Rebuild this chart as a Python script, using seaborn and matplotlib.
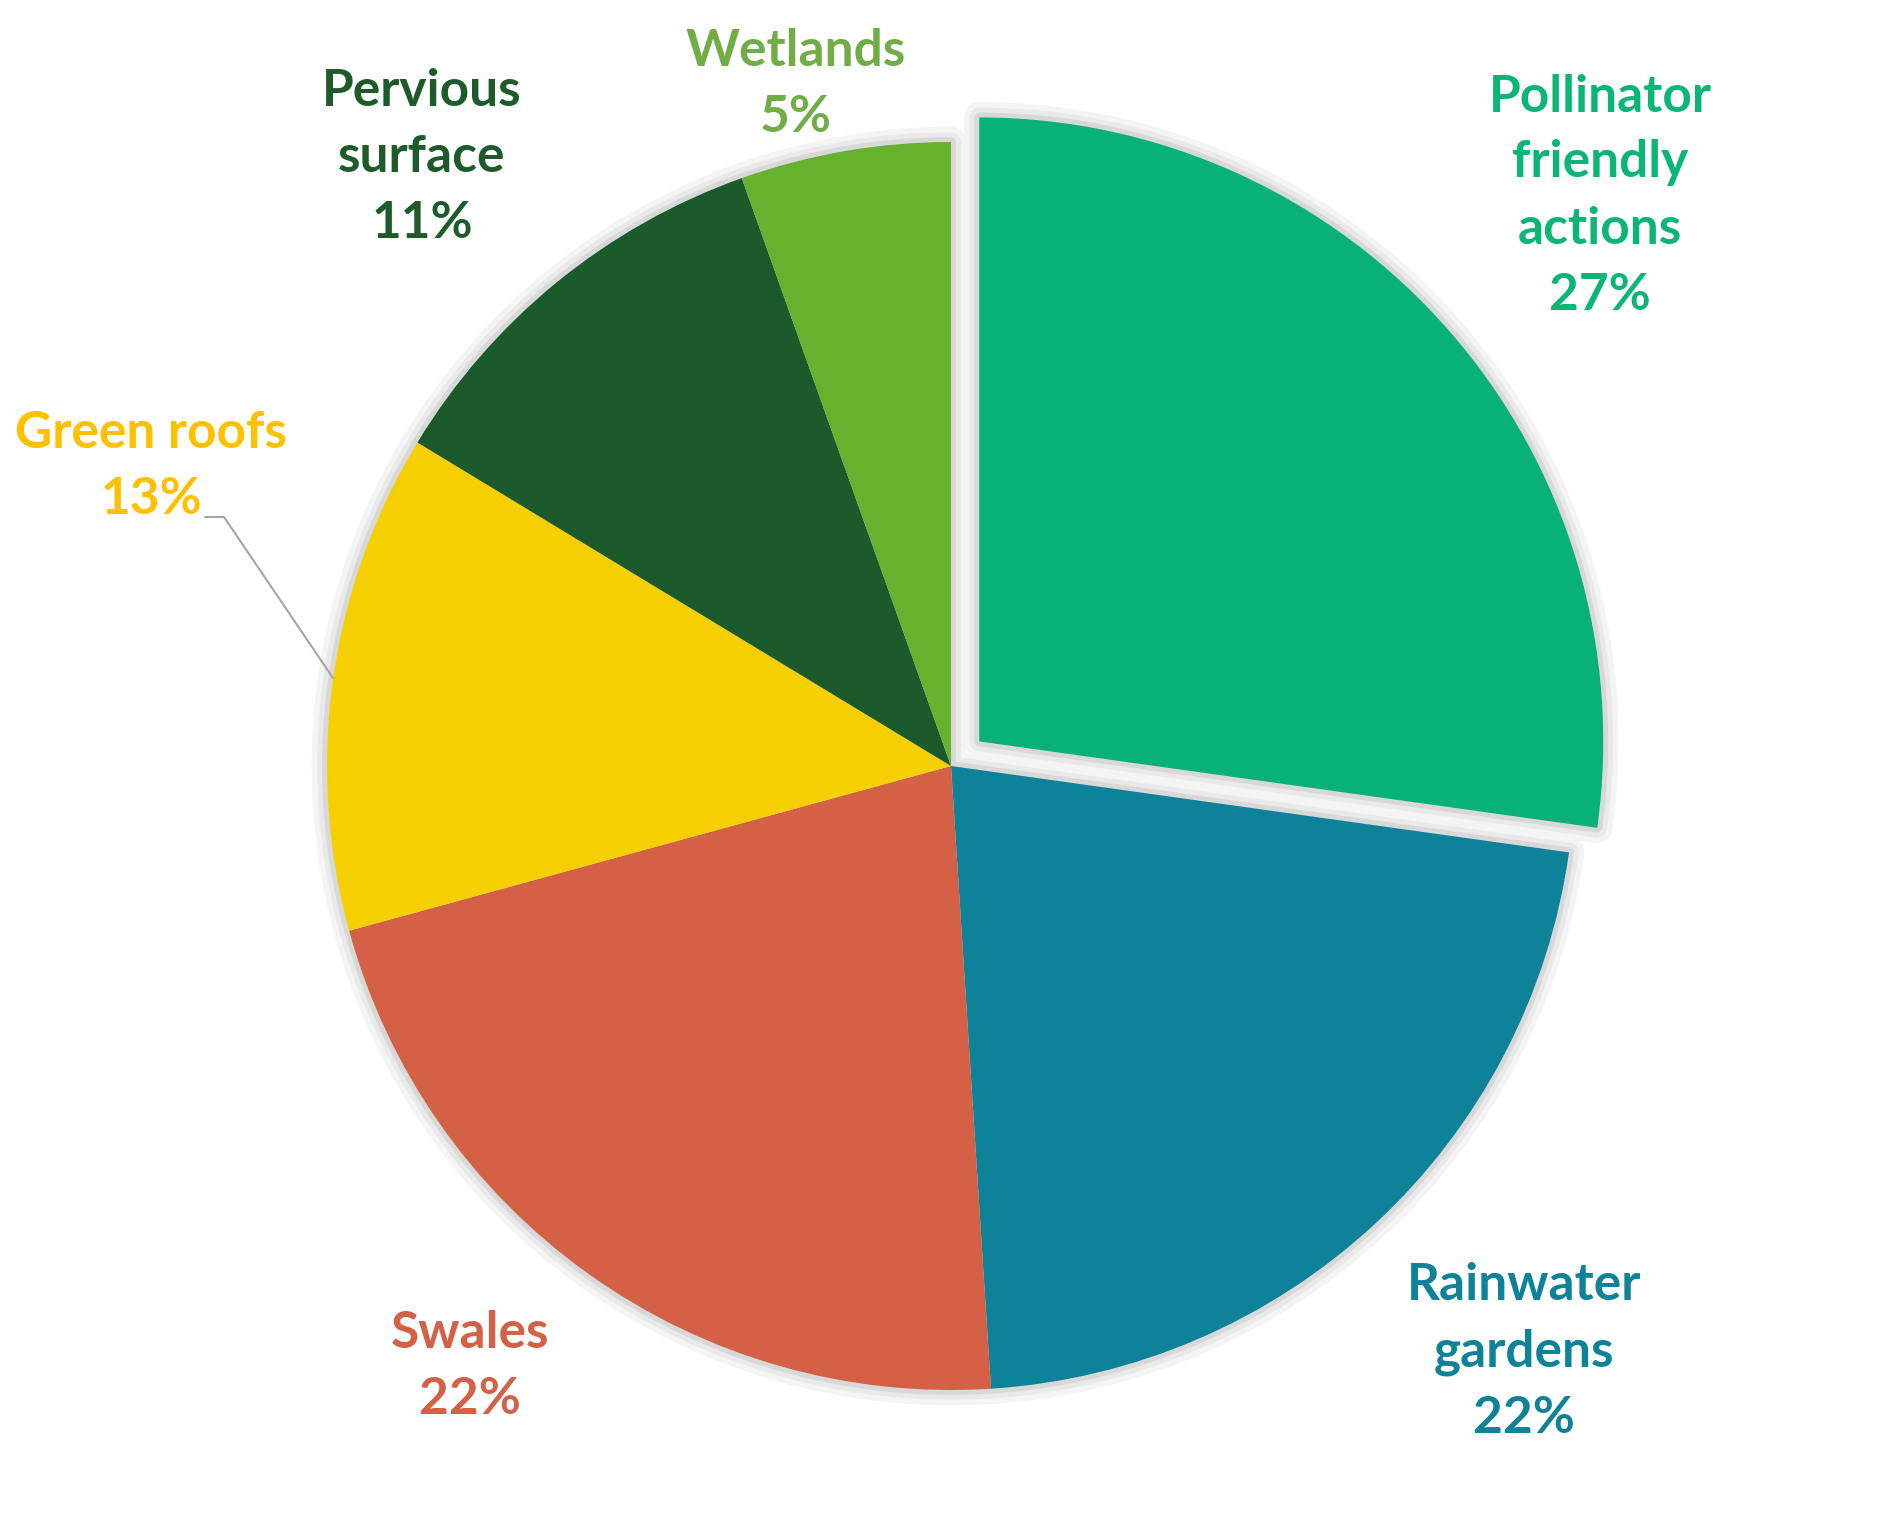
"""Pie chart of green infrastructure actions."""
from matplotlib import pyplot as plt
import seaborn as sns

labels = ['Pollinator\nfriendly\nactions', 'Rainwater\ngardens', 'Swales',
          'Green roofs', 'Pervious\nsurface', 'Wetlands']
counts = [40, 32, 32, 19, 16, 8]
wedge_colors = ['#08B277', '#0D8299', '#D46146', '#F6CF02', '#1B5A2B', '#66B22E']
text_colors = ['#0BB574', '#0D8299', '#D46146', '#FFC000', '#1D5C2A', '#70AD47']
explode = [0.06, 0, 0, 0, 0, 0]

# layout, in figure pixels
W, H = 1900, 1532
CX, CY, R = 951, 766, 624
label_px = [(1600, 196), (1524, 1352), (470, 1367), (151, 466), (422, 158), (796, 85)]


def to_data(px, py):
    return (px - CX) / R, (CY - py) / R


def main():
    sns.set_theme(style='white')
    plt.rcParams['font.family'] = ['Lato', 'DejaVu Sans']

    fig = plt.figure(figsize=(W / 100, H / 100), dpi=100)
    ax = fig.add_axes([0, 0, 1, 1])

    # soft gray glow around the slices
    for lw, col in [(22, '#F4F4F4'), (14, '#E9E9E9'), (7, '#D8D8D8')]:
        ax.pie(counts, explode=explode, startangle=90, counterclock=False,
               colors=['white'] * len(counts),
               wedgeprops=dict(edgecolor=col, linewidth=lw, joinstyle='round'))
    ax.pie(counts, explode=explode, startangle=90, counterclock=False,
           colors=wedge_colors, wedgeprops=dict(linewidth=0))

    total = sum(counts)
    for lab, val, col, (px, py) in zip(labels, counts, text_colors, label_px):
        x, y = to_data(px, py)
        ax.text(x, y, '{}\n{:.0f}%'.format(lab, 100 * val / total), color=col,
                fontsize=37, fontweight='bold', ha='center', va='center',
                multialignment='center', linespacing=1.5)

    # leader line for Green roofs
    pts = [to_data(205, 517), to_data(224, 517), to_data(333, 678)]
    ax.plot([p[0] for p in pts], [p[1] for p in pts], color='#A5A5A5', lw=1.5)

    ax.set_xlim(-CX / R, (W - CX) / R)
    ax.set_ylim(-(H - CY) / R, CY / R)
    ax.axis('off')
    fig.savefig('out.png', dpi=100, facecolor='white')


if __name__ == '__main__':
    main()
